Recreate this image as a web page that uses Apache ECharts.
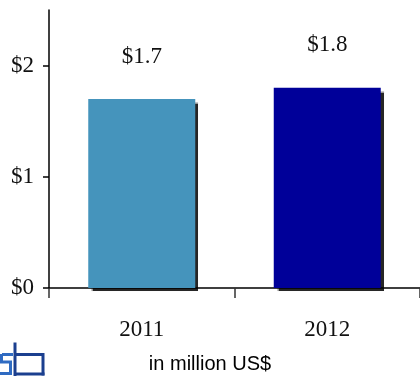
<!DOCTYPE html>
<html>
<head>
<meta charset="utf-8">
<script src="https://cdn.jsdelivr.net/npm/echarts@6/dist/echarts.min.js"></script>
<style>
  html, body { margin: 0; padding: 0; background: #ffffff; }
  #chart { width: 420px; height: 376px; }
</style>
</head>
<body>
<div id="chart"></div>
<script>
// Revenue by year, in million US$
const years = ['2011', '2012'];
const revenue = [1.7, 1.8];
const barColors = ['#4594bc', '#000099'];
const yTickValues = [0, 1, 2];

const serif = '"Liberation Serif", "Times New Roman", serif';

// company mark, bottom left: an "s" and a "b" made of bars
const markLight = '#2f6bc2';
const markDark = '#1b3f8f';
const markRects = [
  [2, 353, 11, 3, markLight],
  [0, 354, 3, 9, markLight],
  [0, 360.5, 12, 3, markLight],
  [9, 361, 3, 13, markLight],
  [0, 372, 12, 3, markLight],
  [13.5, 342.5, 3, 34, markDark],
  [16, 353, 28, 3, markDark],
  [41.5, 353, 3, 22.5, markDark],
  [16, 372.5, 28.5, 3, markDark]
];

const chart = echarts.init(document.getElementById('chart'), null, { renderer: 'canvas' });

chart.setOption({
  animation: false,
  backgroundColor: '#ffffff',
  grid: { left: 49, right: 0, top: 10, bottom: 88 },
  xAxis: {
    type: 'category',
    data: years,
    boundaryGap: true,
    axisLine: { show: true, lineStyle: { color: '#000000', width: 1.5 } },
    axisTick: { show: true, length: 10, lineStyle: { color: '#333333', width: 1.5 } },
    axisLabel: { color: '#111111', fontFamily: serif, fontSize: 23, margin: 30 },
    splitLine: { show: false }
  },
  yAxis: {
    type: 'value',
    min: 0,
    max: 2.5,
    interval: 1,
    axisLine: { show: true, onZero: false, lineStyle: { color: '#000000', width: 1.5 } },
    axisTick: { show: true, length: 6, customValues: yTickValues, lineStyle: { color: '#000000', width: 1.5 } },
    axisLabel: {
      customValues: yTickValues,
      color: '#111111', fontFamily: serif, fontSize: 23, margin: 15,
      formatter: v => '$' + v
    },
    splitLine: { show: false }
  },
  series: [{
    type: 'bar',
    barWidth: 107,
    data: revenue.map((v, i) => ({
      value: v,
      itemStyle: {
        color: barColors[i],
        shadowColor: 'rgba(0,0,0,0.85)',
        shadowBlur: 1,
        shadowOffsetX: 3,
        shadowOffsetY: 3
      }
    })),
    label: {
      show: true,
      position: 'top',
      distance: 31,
      color: '#111111',
      fontFamily: serif,
      fontSize: 23,
      formatter: p => '$' + p.value.toFixed(1)
    }
  }],
  graphic: [
    {
      type: 'text',
      left: 'center',
      top: 354,
      style: {
        text: 'in million US$',
        fill: '#000000',
        font: '20px "Liberation Sans", Arial, sans-serif'
      }
    }
  ].concat(markRects.map(([x, y, w, h, c]) => ({
    type: 'rect',
    shape: { x: x, y: y, width: w, height: h },
    style: { fill: c }
  })))
});
</script>
</body>
</html>
